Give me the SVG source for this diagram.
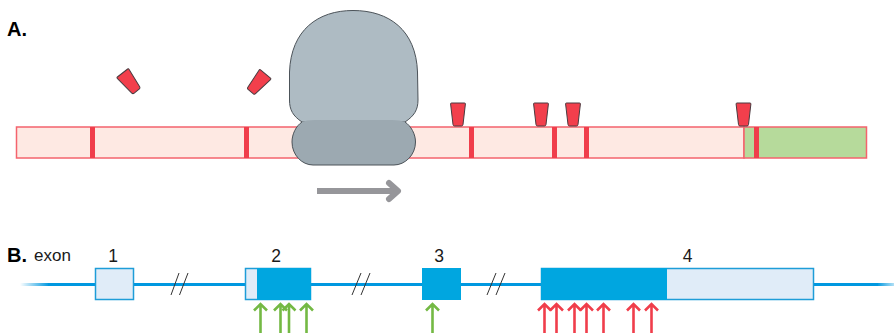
<svg xmlns="http://www.w3.org/2000/svg" width="894" height="333" viewBox="0 0 894 333">
  <style>
    text { font-family: "Liberation Sans", Arial, sans-serif; fill: #1a1a1a; }
    .panel { font-size: 20px; font-weight: bold; fill: #000; }
    .num { font-size: 17.500px; text-anchor: middle; }
    .tick { fill: #f03e4b; }
    .tag { fill: #f23f4c; stroke: #4a3b40; stroke-width: 1; stroke-linejoin: round; }
    .intron { stroke: #0098e0; stroke-width: 3; fill: none; }
    .brk { stroke: #333; stroke-width: 1; fill: none; }
    .dark { fill: #00a6e0; stroke: #00a6e0; stroke-width: 1; }
    .light { fill: #e0ecf8; stroke: #1e9dd8; stroke-width: 1.5; }
    .up { fill: none; stroke-width: 2.6; }
    .green { stroke: #74b944; }
    .red { stroke: #f03e4b; }
  </style>
  <defs>
    <linearGradient id="fadeIn" x1="0" x2="1" y1="0" y2="0"><stop offset="0" stop-color="#0098e0" stop-opacity="0"/><stop offset="1" stop-color="#0098e0"/></linearGradient>
    <linearGradient id="fadeOut" x1="0" x2="1" y1="0" y2="0"><stop offset="0" stop-color="#0098e0"/><stop offset="1" stop-color="#0098e0" stop-opacity="0.3"/></linearGradient>
    <path id="tagShape" d="M-6.5 0 H6.500 Q7.500 0 7.400 1 L5 21.500 Q4.800 23 3.500 23 H-3.500 Q-4.800 23 -5 21.500 L-7.400 1 Q-7.500 0 -6.500 0 Z"/>
    <path id="arrowUp" d="M0 30 V1 M-6.500 7.500 L0 1 L6.500 7.500"/>
  </defs>

  <text class="panel" x="7" y="36">A.</text>
  <text class="panel" x="7" y="262">B.</text>

  <g id="transcript">
    <rect x="16.500" y="127" width="727.500" height="31" fill="#fee9e3" stroke="#f4636d" stroke-width="1.500"/>
    <rect x="744" y="127" width="122.500" height="31" fill="#b6da9b" stroke="#f4636d" stroke-width="1.500"/>
    <rect class="tick" x="90" y="127" width="5" height="31"/>
    <rect class="tick" x="244" y="127" width="5" height="31"/>
    <rect class="tick" x="469" y="127" width="5" height="31"/>
    <rect class="tick" x="552" y="127" width="5" height="31"/>
    <rect class="tick" x="584" y="127" width="5" height="31"/>
    <rect class="tick" x="754" y="127" width="5" height="31"/>
  </g>

  <g id="tags">
    <use href="#tagShape" class="tag" transform="translate(122.500 73) rotate(-38)"/>
    <use href="#tagShape" class="tag" transform="translate(265.500 74) rotate(40)"/>
    <use href="#tagShape" class="tag" transform="translate(458 103)"/>
    <use href="#tagShape" class="tag" transform="translate(541 103)"/>
    <use href="#tagShape" class="tag" transform="translate(573 103)"/>
    <use href="#tagShape" class="tag" transform="translate(743.500 103)"/>
  </g>

  <g id="ribosome">
    <!-- large subunit, then the small subunit with an outline open along its top edge -->
    <path d="M353 10.500 C389 10.500 416 30 417.500 72 L418 100 C418 110 414 116 405 122 L302 122 C293 116 289.500 110 289.500 100 L289.500 72 C291 30 318 10.500 353 10.500 Z" fill="#aebbc3" stroke="#4c5359" stroke-width="1"/>
    <path d="M302 122 Q306 120 315 120 H392 Q400 120 405 122 C411 126 415.500 134 415.500 142 C415.500 155 405 165 394 165 H313 C302 165 292 155 292 142 C292 134 296 126 302 122 Z" fill="#9ca9b1"/>
    <path d="M405 122 C411 126 415.500 134 415.500 142 C415.500 155 405 165 394 165 H313 C302 165 292 155 292 142 C292 134 296 126 302 122" fill="none" stroke="#4c5359" stroke-width="1"/>
  </g>

  <g id="connectors">
    <path d="M317 191 H397" fill="none" stroke="#96969a" stroke-width="6"/>
    <path d="M389 183 L398 191 L389 199" fill="none" stroke="#96969a" stroke-width="6" stroke-linecap="round" stroke-linejoin="round"/>
    <rect x="20" y="283" width="29" height="3" fill="url(#fadeIn)"/>
    <path class="intron" d="M48 284.500 H878"/>
    <rect x="877" y="283" width="17" height="3" fill="url(#fadeOut)"/>
    <path class="brk" d="M171 295 L179 273 M179.500 295 L188 273"/>
    <path class="brk" d="M352 295 L361 273 M361 295 L370 273"/>
    <path class="brk" d="M487 295 L496 273 M496 295 L505 273"/>
    <g class="up green">
      <use href="#arrowUp" transform="translate(260.500 303)"/>
      <use href="#arrowUp" transform="translate(280.500 303)"/>
      <use href="#arrowUp" transform="translate(289 303)"/>
      <use href="#arrowUp" transform="translate(306.500 303)"/>
      <use href="#arrowUp" transform="translate(432.500 303)"/>
    </g>
    <g class="up red">
      <use href="#arrowUp" transform="translate(544.500 303)"/>
      <use href="#arrowUp" transform="translate(556.500 303)"/>
      <use href="#arrowUp" transform="translate(574.500 303)"/>
      <use href="#arrowUp" transform="translate(586.500 303)"/>
      <use href="#arrowUp" transform="translate(603.500 303)"/>
      <use href="#arrowUp" transform="translate(633.500 303)"/>
      <use href="#arrowUp" transform="translate(651.500 303)"/>
    </g>
  </g>

  <text x="34" y="261" font-size="17">exon</text>

  <g id="exon1">
    <rect class="light" x="95.500" y="268.500" width="38" height="31"/>
    <text class="num" x="113" y="262">1</text>
  </g>
  <g id="exon2">
    <rect class="light" x="245.500" y="268.500" width="65" height="31"/>
    <rect class="dark" x="257.500" y="268.500" width="53" height="31"/>
    <text class="num" x="276" y="262">2</text>
  </g>
  <g id="exon3">
    <rect class="dark" x="422.500" y="268.500" width="38" height="31"/>
    <text class="num" x="439" y="262">3</text>
  </g>
  <g id="exon4">
    <rect class="light" x="541.500" y="268.500" width="272" height="31"/>
    <rect class="dark" x="541.500" y="268.500" width="125" height="31"/>
    <text class="num" x="687.500" y="262">4</text>
  </g>
</svg>
